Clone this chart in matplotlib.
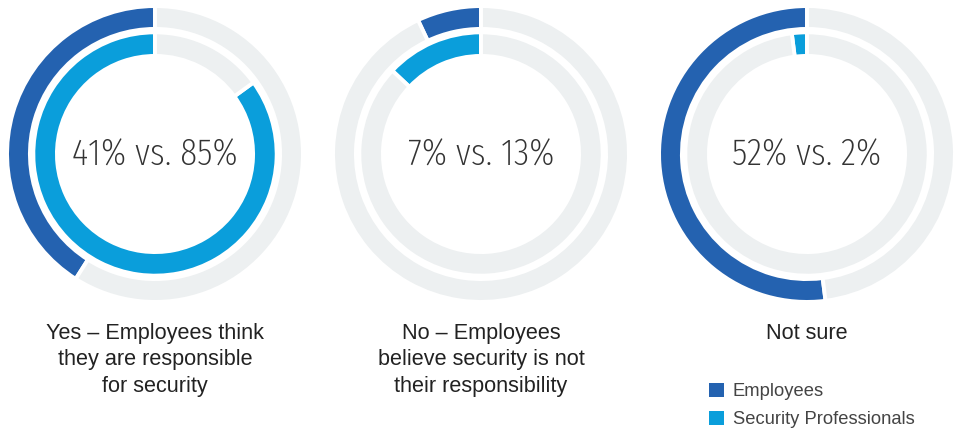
import matplotlib
matplotlib.use("Agg")
import matplotlib.pyplot as plt
from matplotlib.patches import Patch

# data
employees = [41, 7, 52]
security_pros = [85, 13, 2]
captions = [
    "Yes – Employees think\nthey are responsible\nfor security",
    "No – Employees\nbelieve security is not\ntheir responsibility",
    "Not sure",
]
series_names = ["Employees", "Security Professionals"]

c_emp = "#2462b0"
c_sec = "#0a9edb"
c_track = "#edf0f1"

W, H = 958, 429
fig = plt.figure(figsize=(W / 100, H / 100), dpi=100)

R = 146  # outer radius in px
centers_x = [155, 481, 807]
center_y = 154  # from top

lw = 2.8  # white separators (pt)
pad = lw * 100 / 72 / 2 / R  # compensation for edge width, in radius units

def ring(ax, pct, color, radius, width):
    ax.pie([pct, 100 - pct], startangle=90, counterclock=True,
           colors=[color, c_track], radius=radius + pad,
           wedgeprops=dict(width=width + 2 * pad, edgecolor="white", linewidth=lw))

for i in range(3):
    cx = centers_x[i]
    ax = fig.add_axes([(cx - R) / W, (H - center_y - R) / H, 2 * R / W, 2 * R / H])
    ring(ax, employees[i], c_emp, 1.0, 0.13)
    ring(ax, security_pros[i], c_sec, 0.82, 0.135)
    ax.set_xlim(-1, 1)
    ax.set_ylim(-1, 1)
    ax.set_aspect("equal")
    ax.axis("off")
    # center label, condensed light face
    ax.text(0, -0.01, f"{employees[i]}% vs. {security_pros[i]}%", ha="center", va="center",
            fontsize=27.5, color="#333333", fontweight=275,
            family=["Fira Sans Extra Condensed", "Barlow Condensed", "DejaVu Sans"])
    fig.text(cx / W, 1 - 323 / H, captions[i], ha="center", va="top",
             fontsize=15.6, color="#222222", linespacing=1.34,
             family=["Liberation Sans", "DejaVu Sans"])

handles = [Patch(facecolor=c_emp), Patch(facecolor=c_sec)]
fig.legend(handles, series_names, loc="upper left", bbox_to_anchor=(709 / W, 1 - 383 / H),
           frameon=False, handlelength=0.8, handleheight=0.8,
           handletextpad=0.5, labelspacing=0.57, borderaxespad=0, borderpad=0,
           prop=dict(family="Liberation Sans", size=13.2), labelcolor="#444444")

fig.savefig("out.png", dpi=100)
